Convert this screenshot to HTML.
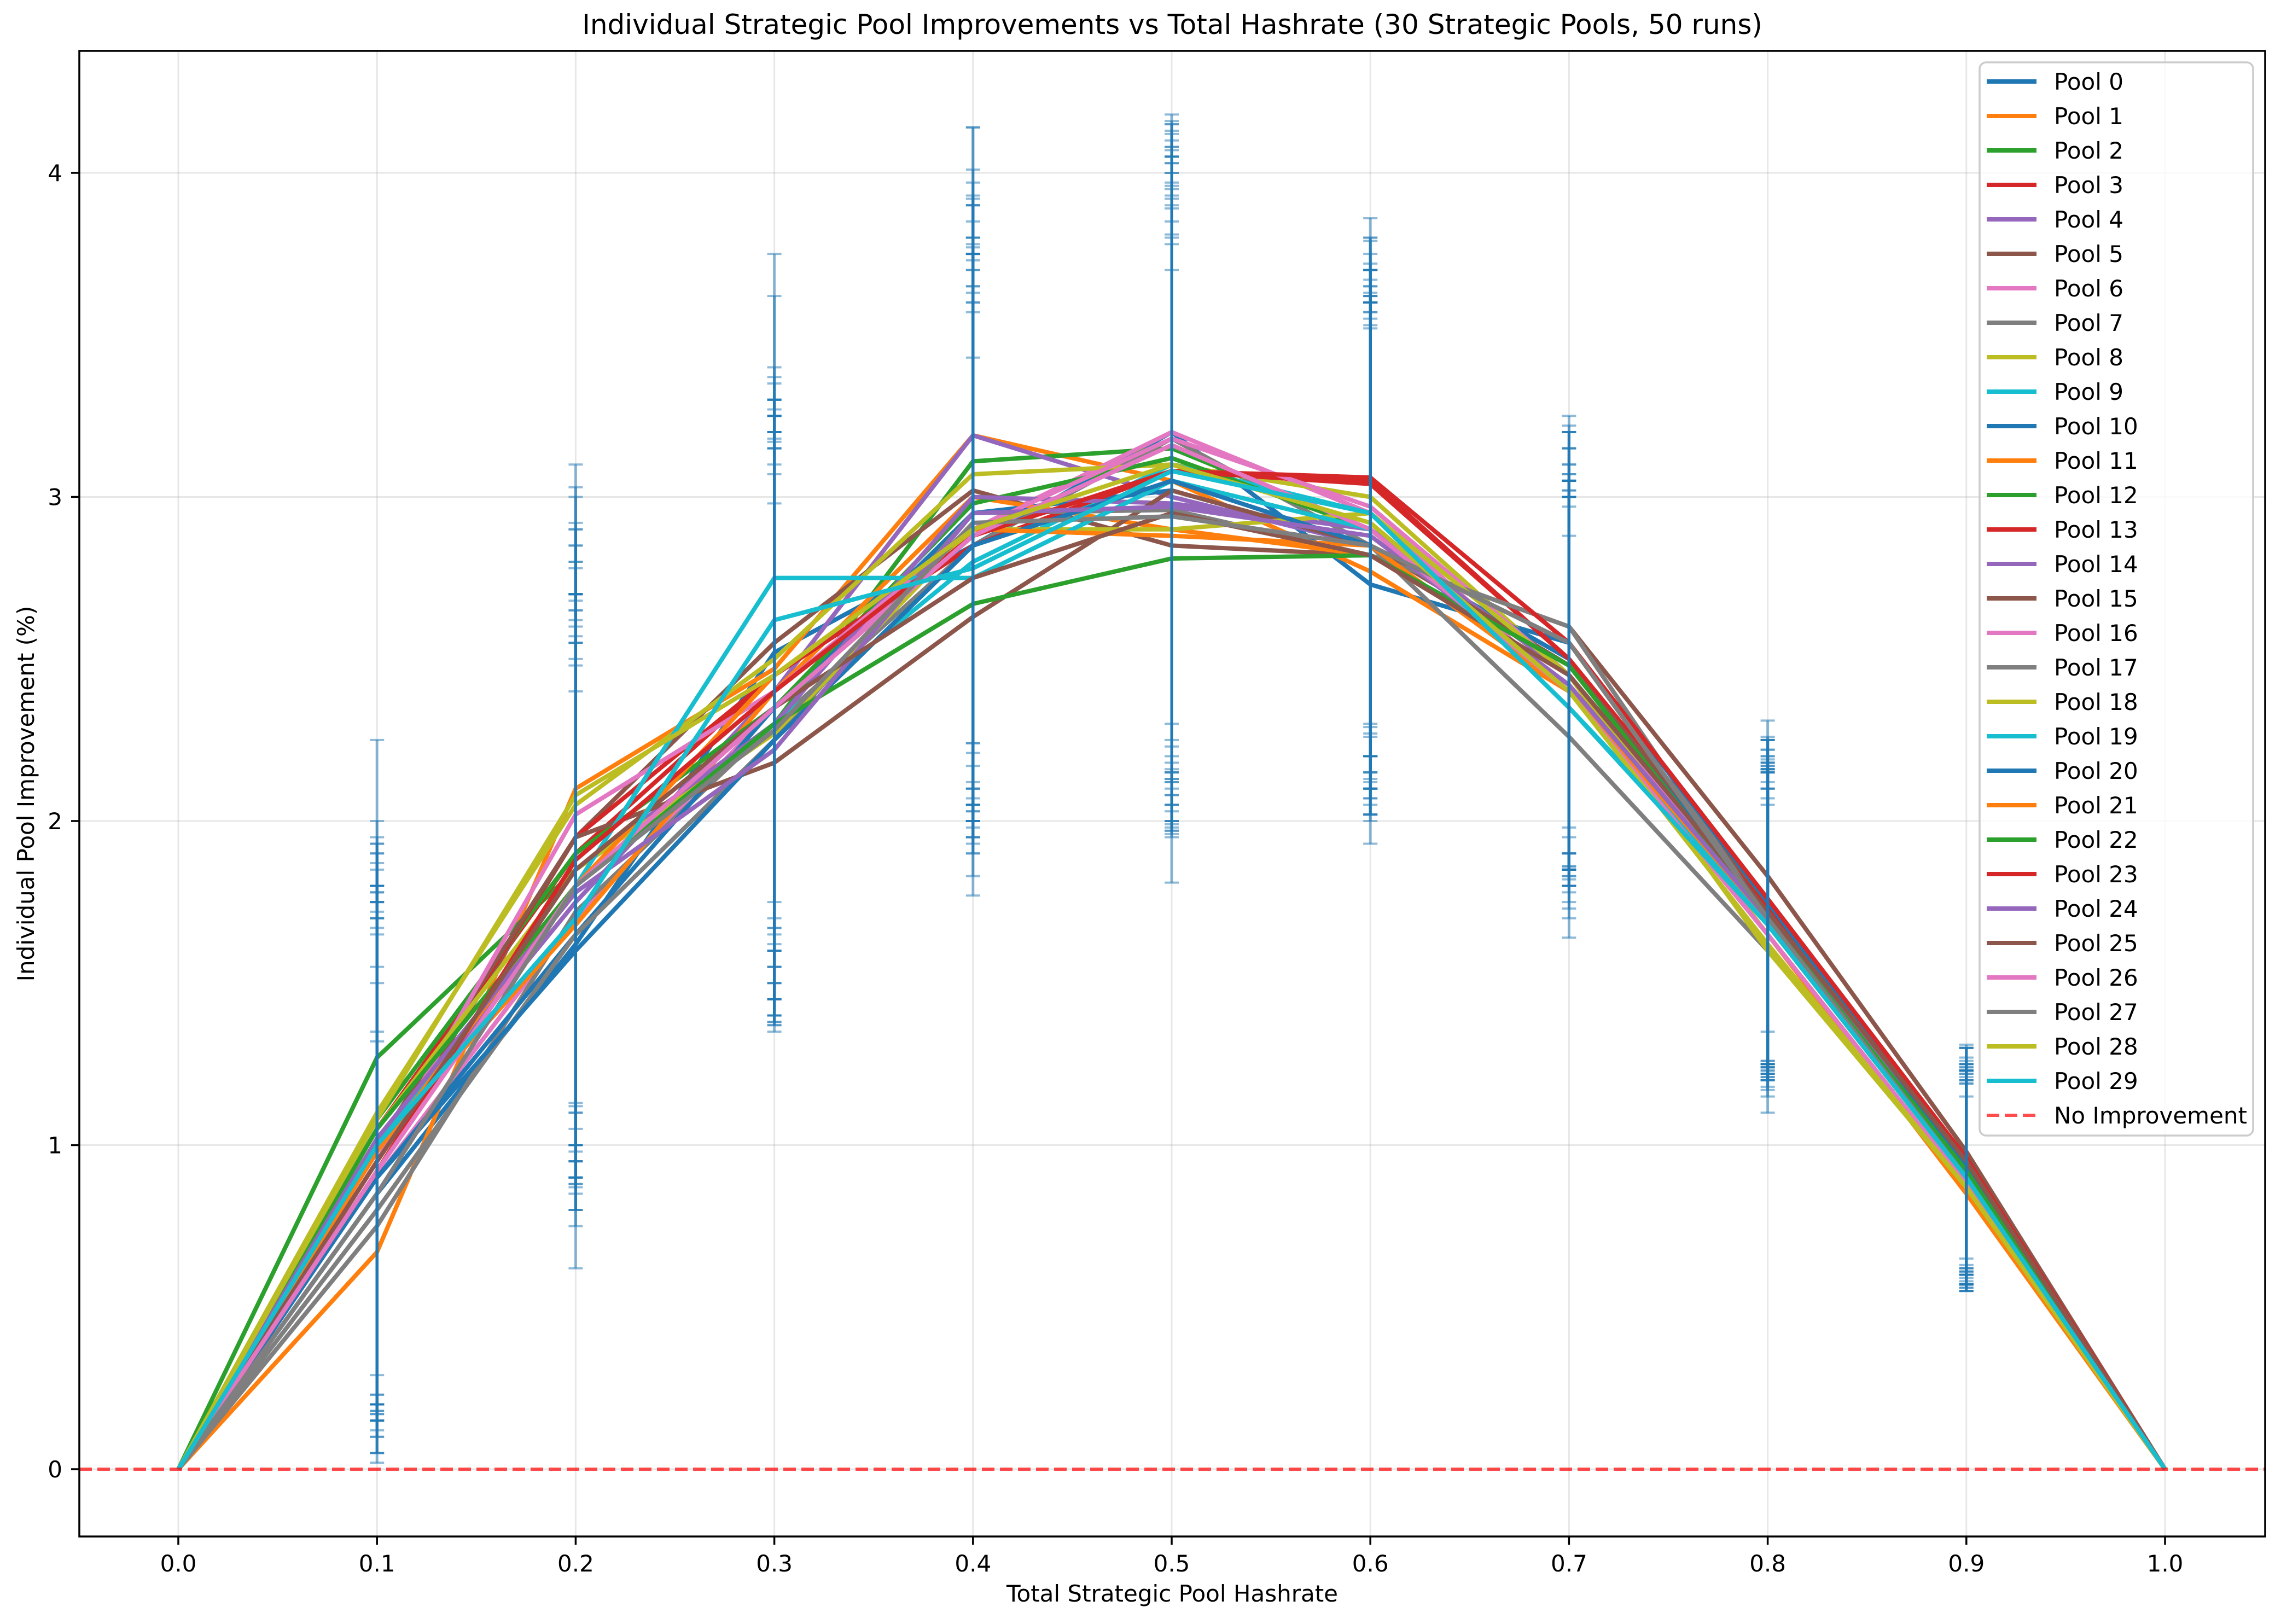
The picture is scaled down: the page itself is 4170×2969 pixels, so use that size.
<!DOCTYPE html>
<html><head><meta charset="utf-8">
<style>
html,body{margin:0;padding:0;background:#fff;}
svg{display:block;font-family:"DejaVu Sans","Liberation Sans",sans-serif;}
</style></head>
<body>
<svg id="chart" width="4170" height="2969" viewBox="0 0 4170 2969" xmlns="http://www.w3.org/2000/svg">
<rect x="0" y="0" width="4170" height="2969" fill="#fff"/>
<text x="2143" y="62" font-size="50" text-anchor="middle">Individual Strategic Pool Improvements vs Total Hashrate (30 Strategic Pools, 50 runs)</text>
<text x="2143" y="2928" font-size="42" text-anchor="middle">Total Strategic Pool Hashrate</text>
<text x="62" y="1451" font-size="42" text-anchor="middle" transform="rotate(-90 62 1451)">Individual Pool Improvement (%)</text>
<g id="grid"></g>
<g id="lines"></g>
<g id="errs"></g>
<g id="zero"></g>
<rect x="145" y="93" width="3996" height="2716" fill="none" stroke="#000" stroke-width="3.5"/>
<g id="ticks"></g>
<g id="legend"></g>
</svg>
<script>
const xCats=[0,0.1,0.2,0.3,0.4,0.5,0.6,0.7,0.8,0.9,1.0];
const xTickLabels=["0.0","0.1","0.2","0.3","0.4","0.5","0.6","0.7","0.8","0.9","1.0"];
const yTicks=[0,1,2,3,4];
const colors=["#1f77b4","#ff7f0e","#2ca02c","#d62728","#9467bd","#8c564b","#e377c2","#7f7f7f","#bcbd22","#17becf"];
// means at x = 0.1 .. 0.9 (0 at 0.0 and 1.0)
const means0=[0.85,1.62,2.52,2.85,3.20,2.73,2.55,1.75,0.93];
const means1=[0.67,2.10,2.47,3.19,3.05,2.77,2.40,1.65,0.85];
const means2=[1.27,1.85,2.30,3.11,3.15,2.90,2.45,1.70,0.90];
const means3=[1.05,1.90,2.45,2.85,3.08,3.05,2.50,1.75,0.95];
const means4=[1.00,1.75,2.40,3.19,3.00,2.85,2.40,1.70,0.92];
const means5=[0.95,1.95,2.55,3.02,2.85,2.82,2.60,1.83,0.98];
const means6=[0.90,1.70,2.35,2.90,3.20,2.95,2.40,1.68,0.90];
const means7=[0.75,1.72,2.30,2.85,3.18,2.85,2.26,1.60,0.88];
const means8=[1.10,2.05,2.50,3.07,3.10,3.00,2.45,1.60,0.87];
const means9=[1.00,1.80,2.30,2.80,3.10,2.95,2.35,1.70,0.90];
const means10=[0.90,1.65,2.35,2.95,3.02,2.85,2.50,1.72,0.93];
const means11=[1.00,1.68,2.40,3.00,2.90,2.82,2.45,1.70,0.90];
const means12=[1.08,1.90,2.35,2.98,3.12,2.90,2.45,1.72,0.92];
const means13=[0.98,1.95,2.45,2.85,3.08,3.04,2.50,1.74,0.95];
const means14=[0.95,1.85,2.30,3.00,2.98,2.90,2.45,1.70,0.93];
const means15=[1.00,1.95,2.18,2.63,3.02,2.85,2.48,1.75,0.96];
const means16=[0.95,2.02,2.40,2.90,3.18,2.97,2.45,1.70,0.92];
const means17=[0.80,1.65,2.25,2.95,2.96,2.82,2.60,1.70,0.90];
const means18=[1.05,1.85,2.27,2.90,2.90,2.95,2.45,1.65,0.88];
const means19=[1.00,1.80,2.75,2.75,3.05,2.90,2.40,1.68,0.90];
const means20=[0.90,1.60,2.25,2.85,3.05,2.85,2.55,1.75,0.93];
const means21=[0.98,1.80,2.45,2.90,2.88,2.85,2.40,1.70,0.90];
const means22=[1.05,1.80,2.30,2.67,2.81,2.82,2.48,1.70,0.92];
const means23=[0.92,1.88,2.40,2.88,3.08,3.06,2.55,1.76,0.96];
const means24=[1.02,1.78,2.22,2.95,2.97,2.88,2.42,1.70,0.90];
const means25=[0.95,1.85,2.35,2.75,2.95,2.82,2.45,1.72,0.95];
const means26=[0.92,1.80,2.35,2.88,3.16,2.90,2.40,1.65,0.88];
const means27=[0.85,1.80,2.28,2.92,2.94,2.85,2.55,1.70,0.90];
const means28=[1.08,2.08,2.45,2.90,3.10,2.92,2.40,1.62,0.87];
const means29=[1.00,1.70,2.62,2.78,3.08,2.95,2.35,1.68,0.90];
const stds0=[0.80,1.00,0.85,0.90,0.90,0.80,0.65,0.50,0.32];
const stds1=[0.65,1.00,0.80,0.95,1.00,0.75,0.60,0.45,0.30];
const stds2=[0.98,0.85,0.90,0.90,1.00,0.70,0.60,0.48,0.33];
const stds3=[0.85,0.90,0.85,0.85,1.00,0.75,0.65,0.50,0.35];
const stds4=[0.80,0.80,0.90,0.95,0.95,0.70,0.60,0.45,0.30];
const stds5=[0.75,0.95,0.85,0.90,0.85,0.80,0.62,0.48,0.33];
const stds6=[0.80,0.85,0.85,0.85,0.95,0.75,0.65,0.47,0.32];
const stds7=[0.60,0.85,0.90,0.80,1.00,0.85,0.62,0.45,0.33];
const stds8=[0.90,0.95,0.85,0.90,0.95,0.80,0.60,0.50,0.32];
const stds9=[0.80,0.90,0.85,0.85,0.90,0.75,0.65,0.48,0.33];
const stds10=[0.85,0.90,0.90,0.85,0.90,0.75,0.65,0.50,0.32];
const stds11=[0.80,0.80,0.85,0.90,0.95,0.80,0.62,0.45,0.30];
const stds12=[0.85,0.95,0.90,0.95,1.00,0.70,0.60,0.47,0.33];
const stds13=[0.80,0.90,0.85,0.85,1.00,0.75,0.65,0.48,0.32];
const stds14=[0.75,0.85,0.85,0.90,0.95,0.80,0.60,0.50,0.33];
const stds15=[0.80,0.95,0.80,0.80,1.05,0.75,0.62,0.50,0.34];
const stds16=[0.80,0.90,0.85,0.85,0.95,0.70,0.60,0.46,0.32];
const stds17=[0.70,0.85,0.85,0.90,1.00,0.75,0.65,0.47,0.33];
const stds18=[0.85,0.95,0.90,0.90,0.90,0.80,0.60,0.45,0.32];
const stds19=[0.80,0.90,1.00,0.85,1.00,0.75,0.62,0.48,0.33];
const stds20=[0.85,0.80,0.90,0.90,0.95,0.80,0.65,0.50,0.32];
const stds21=[0.80,0.90,0.85,0.85,0.90,0.75,0.60,0.47,0.33];
const stds22=[0.90,0.85,0.90,0.90,1.00,0.75,0.62,0.48,0.32];
const stds23=[0.80,0.90,0.85,0.85,0.95,0.80,0.65,0.50,0.34];
const stds24=[0.85,0.90,0.85,0.95,1.00,0.75,0.60,0.46,0.33];
const stds25=[0.80,0.85,0.90,0.85,0.95,0.80,0.62,0.48,0.35];
const stds26=[0.75,0.90,0.85,0.90,1.00,0.70,0.60,0.47,0.32];
const stds27=[0.70,0.85,0.90,0.85,0.95,0.75,0.65,0.46,0.33];
const stds28=[0.85,0.95,0.85,0.90,0.95,0.80,0.60,0.45,0.32];
const stds29=[0.85,0.90,1.00,0.85,0.95,0.75,0.62,0.47,0.33];
const meansAll=[means0,means1,means2,means3,means4,means5,means6,means7,means8,means9,means10,means11,means12,means13,means14,means15,means16,means17,means18,means19,means20,means21,means22,means23,means24,means25,means26,means27,means28,means29];
const stdsAll=[stds0,stds1,stds2,stds3,stds4,stds5,stds6,stds7,stds8,stds9,stds10,stds11,stds12,stds13,stds14,stds15,stds16,stds17,stds18,stds19,stds20,stds21,stds22,stds23,stds24,stds25,stds26,stds27,stds28,stds29];

const NS="http://www.w3.org/2000/svg";
const X0=326,X1=3958,Y0=2686,YPU=592.5,LEFT=145,RIGHT=4141,TOP=93,BOTTOM=2809;
function sx(v){return X0+(X1-X0)*v;}
function sy(v){return Y0-YPU*v;}
function mk(tag,attrs,parent){const e=document.createElementNS(NS,tag);for(const k in attrs)e.setAttribute(k,attrs[k]);parent.appendChild(e);return e;}

const grid=document.getElementById('grid');
xCats.forEach((v)=>{
  const l=mk('line',{x1:sx(v),x2:sx(v),y1:TOP,y2:BOTTOM,stroke:'#b0b0b0','stroke-opacity':0.3,'stroke-width':3},grid);
  
  
});
yTicks.forEach((v)=>{
  const l=mk('line',{x1:LEFT,x2:RIGHT,y1:sy(v),y2:sy(v),stroke:'#b0b0b0','stroke-opacity':0.3,'stroke-width':3},grid);
  
  
});

const linesG=document.getElementById('lines');
const errG=document.getElementById('errs');
meansAll.forEach((m,i)=>{
  const vals=[0].concat(m).concat([0]);
  const pts=vals.map((v,j)=>sx(xCats[j])+','+sy(v)).join(' ');
  const pl=mk('polyline',{points:pts,fill:'none',stroke:colors[i%10],'stroke-width':8,'stroke-linejoin':'round'},linesG);
  
  
  const s=stdsAll[i];
  m.forEach((v,j)=>{
    const x=sx(xCats[j+1]);
    const g=mk('g',{stroke:'#1f77b4','stroke-opacity':0.5},errG);
    
    
    mk('line',{x1:x,x2:x,y1:sy(v-s[j]),y2:sy(v+s[j]),'stroke-width':5},g);
    mk('line',{x1:x-13,x2:x+13,y1:sy(v-s[j]),y2:sy(v-s[j]),'stroke-width':4},g);
    mk('line',{x1:x-13,x2:x+13,y1:sy(v+s[j]),y2:sy(v+s[j]),'stroke-width':4},g);
  });
});

const zero=document.getElementById('zero');
const zl=mk('line',{x1:LEFT,x2:RIGHT,y1:sy(0),y2:sy(0),stroke:'#ff0000','stroke-opacity':0.7,'stroke-width':6,'stroke-dasharray':'23 10'},zero);



const ticks=document.getElementById('ticks');
xCats.forEach((v,i)=>{
  mk('line',{x1:sx(v),x2:sx(v),y1:BOTTOM,y2:BOTTOM+15,stroke:'#000','stroke-width':3.5},ticks);
  const t=mk('text',{x:sx(v),y:2873,'font-size':42,'text-anchor':'middle'},ticks);
  t.textContent=xTickLabels[i];
  
  
});
yTicks.forEach((v)=>{
  mk('line',{x1:LEFT-15,x2:LEFT,y1:sy(v),y2:sy(v),stroke:'#000','stroke-width':3.5},ticks);
  const t=mk('text',{x:114,y:sy(v)+15,'font-size':42,'text-anchor':'end'},ticks);
  t.textContent=String(v);
  
  
});

const leg=document.getElementById('legend');
const box=mk('rect',{x:3619,y:114,width:500,height:1962,rx:12,fill:'#fff','fill-opacity':0.8,stroke:'#cccccc','stroke-width':3.5},leg);


for(let i=0;i<31;i++){
  const cy=149+i*63;
  const g=mk('g',{},leg);
  
  
  if(i<30){
    mk('line',{x1:3632,x2:3723,y1:cy,y2:cy,stroke:colors[i%10],'stroke-width':8},g);
  }else{
    mk('line',{x1:3632,x2:3723,y1:cy,y2:cy,stroke:'#ff0000','stroke-opacity':0.7,'stroke-width':6,'stroke-dasharray':'23 10'},g);
  }
  const t=mk('text',{x:3755,y:cy+15,'font-size':42},g);
  t.textContent=i<30?('Pool '+i):'No Improvement';
}
</script>
</body></html>
